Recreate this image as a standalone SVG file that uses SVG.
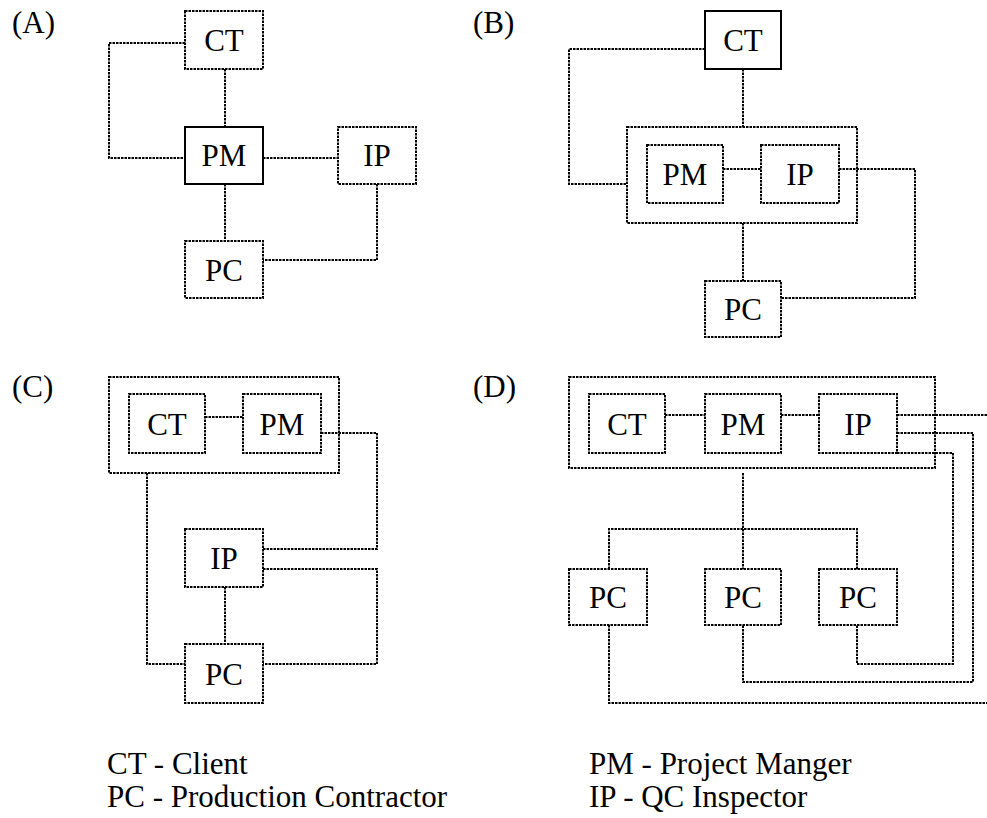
<svg xmlns="http://www.w3.org/2000/svg" width="987" height="818" viewBox="0 0 987 818">
<style>
  .box { fill: #fff; stroke: #000; stroke-width: 2; stroke-dasharray: 2.5 1; }
  .solid { fill: #fff; stroke: #000; stroke-width: 2; }
  .grp { fill: none; stroke: #000; stroke-width: 2; stroke-dasharray: 2.5 1; }
  .ln { fill: none; stroke: #000; stroke-width: 2; stroke-dasharray: 2.5 1; }
  text { font-family: "Liberation Serif", "Times New Roman", serif; font-size: 31px; fill: #000; }
  .c { text-anchor: middle; }
</style>
<rect width="987" height="818" fill="#fff"/>

<!-- Panel labels -->
<text x="12" y="33">(A)</text>
<text x="473" y="33">(B)</text>
<text x="12" y="397">(C)</text>
<text x="473" y="397">(D)</text>

<!-- Connectors -->
<g id="connectors">
  <!-- A -->
  <polyline class="ln" points="185,43 109,43 109,158 185,158"/>
  <line class="ln" x1="225" y1="69" x2="225" y2="127"/>
  <line class="ln" x1="263" y1="158" x2="338" y2="158"/>
  <line class="ln" x1="225" y1="184" x2="225" y2="241"/>
  <polyline class="ln" points="377,184 377,260 263,260"/>
  <!-- B -->
  <polyline class="ln" points="705,49 569,49 569,184 627,184"/>
  <line class="ln" x1="743" y1="69" x2="743" y2="127"/>
  <line class="ln" x1="723" y1="169" x2="761" y2="169"/>
  <line class="ln" x1="743" y1="223" x2="743" y2="281"/>
  <polyline class="ln" points="839,169 915,169 915,298 781,298"/>
  <!-- C -->
  <line class="ln" x1="205" y1="417" x2="243" y2="417"/>
  <polyline class="ln" points="321,433 377,433 377,549 263,549"/>
  <polyline class="ln" points="263,569 377,569 377,664 263,664"/>
  <line class="ln" x1="225" y1="587" x2="225" y2="644"/>
  <polyline class="ln" points="147,473 147,664 185,664"/>
  <!-- D -->
  <line class="ln" x1="665" y1="415" x2="705" y2="415"/>
  <line class="ln" x1="781" y1="415" x2="819" y2="415"/>
  <line class="ln" x1="897" y1="415" x2="987" y2="415"/>
  <polyline class="ln" points="897,433 973,433 973,682 743,682 743,625"/>
  <polyline class="ln" points="897,453 953,453 953,664 857,664 857,625"/>
  <polyline class="ln" points="609,625 609,703 987,703"/>
  <line class="ln" x1="743" y1="473" x2="743" y2="569"/>
  <polyline class="ln" points="609,569 609,529 857,529 857,569"/>
</g>

<!-- Group boxes -->
<rect id="B-group" class="grp" x="627" y="127" width="230" height="96"/>
<rect id="C-group" class="grp" x="109" y="377" width="230" height="96"/>
<rect id="D-group" class="grp" x="569" y="377" width="366" height="91"/>

<!-- A nodes -->
<g id="A-CT"><rect class="box" x="185" y="11" width="78" height="58"/><text class="c" x="224" y="51">CT</text></g>
<g id="A-PM"><rect class="solid" x="185" y="127" width="78" height="57"/><text class="c" x="224" y="166">PM</text></g>
<g id="A-IP"><rect class="box" x="338" y="127" width="78" height="57"/><text class="c" x="377" y="166">IP</text></g>
<g id="A-PC"><rect class="box" x="185" y="241" width="78" height="57"/><text class="c" x="224" y="281">PC</text></g>

<!-- B nodes -->
<g id="B-CT"><rect class="solid" x="705" y="11" width="76" height="58"/><text class="c" x="743" y="51">CT</text></g>
<g id="B-PM"><rect class="box" x="647" y="145" width="76" height="58"/><text class="c" x="685" y="185">PM</text></g>
<g id="B-IP"><rect class="box" x="761" y="145" width="78" height="58"/><text class="c" x="800" y="185">IP</text></g>
<g id="B-PC"><rect class="box" x="705" y="281" width="76" height="56"/><text class="c" x="743" y="320">PC</text></g>

<!-- C nodes -->
<g id="C-CT"><rect class="box" x="129" y="394" width="76" height="59"/><text class="c" x="167" y="435">CT</text></g>
<g id="C-PM"><rect class="box" x="243" y="394" width="78" height="59"/><text class="c" x="282" y="435">PM</text></g>
<g id="C-IP"><rect class="box" x="185" y="529" width="78" height="58"/><text class="c" x="224" y="569">IP</text></g>
<g id="C-PC"><rect class="box" x="185" y="644" width="78" height="59"/><text class="c" x="224" y="685">PC</text></g>

<!-- D nodes -->
<g id="D-CT"><rect class="box" x="589" y="394" width="76" height="59"/><text class="c" x="627" y="435">CT</text></g>
<g id="D-PM"><rect class="box" x="705" y="394" width="76" height="59"/><text class="c" x="743" y="435">PM</text></g>
<g id="D-IP"><rect class="box" x="819" y="394" width="78" height="59"/><text class="c" x="858" y="435">IP</text></g>
<g id="D-PC1"><rect class="box" x="569" y="569" width="78" height="56"/><text class="c" x="608" y="608">PC</text></g>
<g id="D-PC2"><rect class="box" x="705" y="569" width="76" height="56"/><text class="c" x="743" y="608">PC</text></g>
<g id="D-PC3"><rect class="box" x="819" y="569" width="78" height="56"/><text class="c" x="858" y="608">PC</text></g>

<!-- Legend -->
<g id="legend">
  <text x="107" y="774">CT - Client</text>
  <text x="107" y="807">PC - Production Contractor</text>
  <text x="589" y="774">PM - Project Manger</text>
  <text x="589" y="807">IP - QC Inspector</text>
</g>
</svg>
